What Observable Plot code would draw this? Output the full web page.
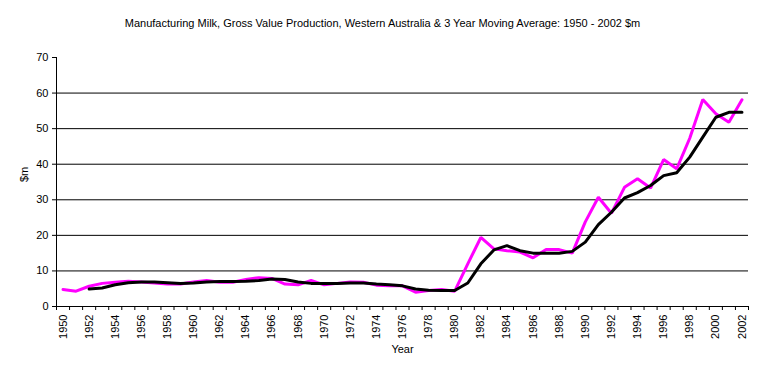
<!DOCTYPE html>
<html>
<head>
<meta charset="utf-8">
<script src="https://cdn.jsdelivr.net/npm/d3@7"></script>
<script src="https://cdn.jsdelivr.net/npm/@observablehq/plot@0.6"></script>
<style>
  html, body { margin: 0; padding: 0; background: #fff; }
  #chart svg { display: block; }
</style>
</head>
<body>
<div id="chart"></div>
<script>
const titleText = "Manufacturing Milk, Gross Value Production, Western Australia & 3 Year Moving Average: 1950 - 2002 $m";
const years = [1950,1951,1952,1953,1954,1955,1956,1957,1958,1959,1960,1961,1962,1963,1964,1965,1966,1967,1968,1969,1970,1971,1972,1973,1974,1975,1976,1977,1978,1979,1980,1981,1982,1983,1984,1985,1986,1987,1988,1989,1990,1991,1992,1993,1994,1995,1996,1997,1998,1999,2000,2001,2002];
const annualValue = [4.8,4.3,5.7,6.5,6.8,7.1,6.9,6.6,6.3,6.3,6.9,7.3,6.8,6.8,7.6,8.1,7.9,6.3,6.1,7.3,6.1,6.5,6.9,6.8,6.0,5.8,5.8,4.0,4.5,4.8,4.3,12.0,19.4,16.2,15.7,15.3,13.7,16.0,16.0,15.0,23.8,30.7,26.2,33.5,35.9,33.3,41.3,38.7,47.3,58.2,54.2,51.8,58.1];
const movingAverage = [null,null,4.9,5.2,6.1,6.7,6.9,6.9,6.7,6.5,6.6,6.9,7.0,7.0,7.1,7.3,7.7,7.6,6.9,6.5,6.5,6.5,6.6,6.6,6.3,6.1,5.8,4.9,4.6,4.5,4.5,6.6,12.0,15.9,17.1,15.7,15.0,15.0,15.0,15.5,18.1,23.0,26.5,30.5,32.0,34.0,36.8,37.6,42.0,47.6,53.2,54.6,54.6];
const yTicks = [0,10,20,30,40,50,60,70];
const gridValues = [10,20,30,40,50,60];
const xLabelYears = years.filter(y => y % 2 === 0);
const categoryEdges = years.map(y => y - 0.5).concat([years[years.length - 1] + 0.5]);

const annual = years.map((y, i) => ({year: y, value: annualValue[i]}));
const moving = years.map((y, i) => ({year: y, value: movingAverage[i]})).filter(d => d.value != null);

const font = "'Liberation Sans', Arial, sans-serif";

const chart = Plot.plot({
  width: 762,
  height: 375,
  marginLeft: 56,
  marginRight: 14,
  marginTop: 57,
  marginBottom: 69,
  style: {fontFamily: font, fontSize: "11px", color: "#000", background: "#fff"},
  x: {type: "linear", domain: [categoryEdges[0], categoryEdges[categoryEdges.length - 1]]},
  y: {domain: [0, 70]},
  marks: [
    Plot.gridY(gridValues, {stroke: "#000", strokeOpacity: 1, strokeWidth: 1}),
    Plot.frame({anchor: "left", stroke: "#000"}),
    Plot.frame({anchor: "bottom", stroke: "#000"}),
    Plot.axisY(yTicks, {tickSize: 4, tickPadding: 4, fontSize: 11, label: null}),
    Plot.axisX(categoryEdges, {tickSize: 4, tickFormat: () => "", label: null}),
    Plot.axisX(xLabelYears, {tickSize: 0, tickPadding: 8, tickRotate: -90, tickFormat: d => String(d), fontSize: 11, label: null}),
    Plot.text([titleText], {frameAnchor: "top", dx: -20, dy: -38, fontSize: 11, text: d => d}),
    Plot.text(["Year"], {frameAnchor: "bottom", dy: 46, fontSize: 11, text: d => d}),
    Plot.text(["$m"], {frameAnchor: "left", dx: -32, rotate: -90, fontSize: 11, text: d => d}),
    Plot.line(annual, {x: "year", y: "value", stroke: "#ff00ff", strokeWidth: 3, strokeLinejoin: "miter"}),
    Plot.line(moving, {x: "year", y: "value", stroke: "#000", strokeWidth: 3, strokeLinejoin: "miter"})
  ]
});
document.getElementById("chart").append(chart);
</script>
</body>
</html>
